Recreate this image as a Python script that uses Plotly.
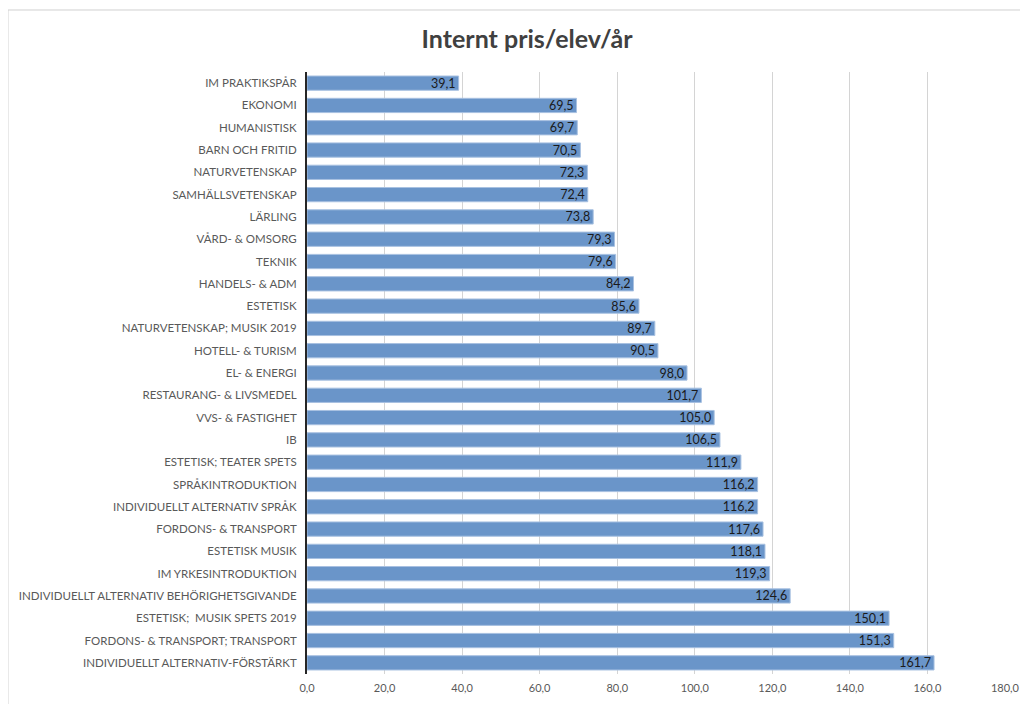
import plotly.graph_objects as go

categories = [
    "IM PRAKTIKSPÅR", "EKONOMI", "HUMANISTISK", "BARN OCH FRITID", "NATURVETENSKAP",
    "SAMHÄLLSVETENSKAP", "LÄRLING", "VÅRD- & OMSORG", "TEKNIK", "HANDELS- & ADM",
    "ESTETISK", "NATURVETENSKAP; MUSIK 2019", "HOTELL- & TURISM", "EL- & ENERGI",
    "RESTAURANG- & LIVSMEDEL", "VVS- & FASTIGHET", "IB", "ESTETISK; TEATER SPETS",
    "SPRÅKINTRODUKTION", "INDIVIDUELLT ALTERNATIV SPRÅK", "FORDONS- & TRANSPORT",
    "ESTETISK MUSIK", "IM YRKESINTRODUKTION", "INDIVIDUELLT ALTERNATIV BEHÖRIGHETSGIVANDE",
    "ESTETISK;  MUSIK SPETS 2019", "FORDONS- & TRANSPORT; TRANSPORT",
    "INDIVIDUELLT ALTERNATIV-FÖRSTÄRKT",
]
values = [
    39.1, 69.5, 69.7, 70.5, 72.3, 72.4, 73.8, 79.3, 79.6, 84.2, 85.6, 89.7, 90.5,
    98.0, 101.7, 105.0, 106.5, 111.9, 116.2, 116.2, 117.6, 118.1, 119.3, 124.6,
    150.1, 151.3, 161.7,
]
x_ticks = [0, 20, 40, 60, 80, 100, 120, 140, 160, 180]

fig = go.Figure(go.Bar(
    x=values, y=categories, orientation="h",
    marker=dict(color="#6a95c9", line=dict(color="#a8c1e1", width=1)),
    text=values, texttemplate="%{x:.1f}", textposition="inside",
    insidetextanchor="end", textangle=0, constraintext="none",
    textfont=dict(family="Lato", size=12.5, color="#1a1a1a"),
    width=0.64,
))

fig.update_layout(
    width=1028, height=704,
    paper_bgcolor="white", plot_bgcolor="white",
    separators=", ",
    margin=dict(l=299, r=31, t=64, b=38),
    title=dict(text="<b>Internt pris/elev/år</b>", x=0.505, xref="container",
               y=0.955, yref="container", yanchor="middle", xanchor="center",
               font=dict(family="Lato", size=25, color="#404040")),
    font=dict(family="Lato", color="#595959"),
    showlegend=False,
    shapes=[dict(type="rect", xref="paper", yref="paper", x0=-0.4284, x1=1.06, y0=-0.12, y1=1.103,
                 line=dict(color="#d0d0d0", width=1), fillcolor="rgba(0,0,0,0)", layer="below")],
)
fig.update_xaxes(range=[0, 180], tickvals=x_ticks, tickformat=".1f", showgrid=True,
                 gridcolor="#d4d4d4", gridwidth=1, zeroline=False, showline=False,
                 tickfont=dict(family="Lato", size=11, color="#595959"), ticks="", ticklen=0,
                 ticklabelstandoff=6)
fig.update_yaxes(autorange="reversed", showline=True, linecolor="#262626", linewidth=2,
                 tickfont=dict(family="Lato", size=11.5, color="#595959"), ticks="", showgrid=False,
                 ticklabelstandoff=6)

fig.write_html("out.html")
